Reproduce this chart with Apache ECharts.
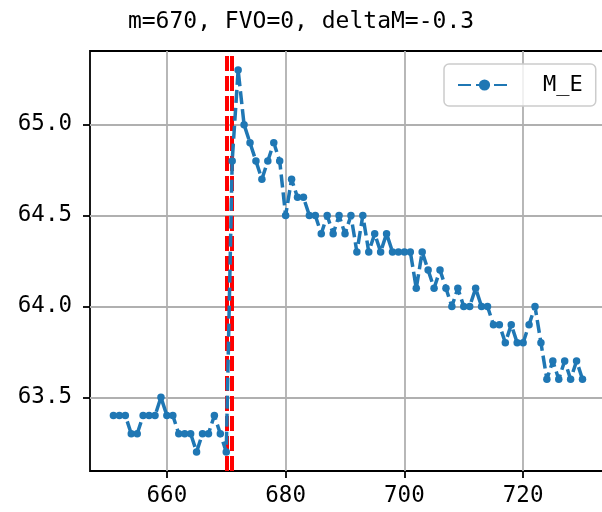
<!DOCTYPE html>
<html>
<head>
<meta charset="utf-8">
<script src="https://cdn.jsdelivr.net/npm/echarts@6/dist/echarts.min.js"></script>
<style>html,body{margin:0;padding:0;background:#fff;}#c{width:602px;height:512px;}</style>
</head>
<body>
<div id="c"></div>
<script>
const titleText = 'm=670, FVO=0, deltaM=-0.3';
const seriesName = 'M_E';
const mValues = [651,652,653,654,655,656,657,658,659,660,661,662,663,664,665,666,667,668,669,670,
  671,672,673,674,675,676,677,678,679,680,681,682,683,684,685,686,687,688,689,690,
  691,692,693,694,695,696,697,698,699,700,701,702,703,704,705,706,707,708,709,710,
  711,712,713,714,715,716,717,718,719,720,721,722,723,724,725,726,727,728,729,730];
const meValues = [63.4,63.4,63.4,63.3,63.3,63.4,63.4,63.4,63.5,63.4,63.4,63.3,63.3,63.3,63.2,63.3,63.3,63.4,63.3,63.2,
  64.8,65.3,65.0,64.9,64.8,64.7,64.8,64.9,64.8,64.5,64.7,64.6,64.6,64.5,64.5,64.4,64.5,64.4,64.5,64.4,
  64.5,64.3,64.5,64.3,64.4,64.3,64.4,64.3,64.3,64.3,64.3,64.1,64.3,64.2,64.1,64.2,64.1,64.0,64.1,64.0,
  64.0,64.1,64.0,64.0,63.9,63.9,63.8,63.9,63.8,63.8,63.9,64.0,63.8,63.6,63.7,63.6,63.7,63.6,63.7,63.6];
const vLines = [670, 671];
const xTicks = [660, 680, 700, 720];
const yTicks = [63.5, 64.0, 64.5, 65.0];
const xRange = [647.05, 738.0];
const yRange = [63.095, 65.405];

const FONT = 'DejaVu Sans Mono';
const chart = echarts.init(document.getElementById('c'), null, {renderer: 'canvas'});
chart.setOption({
  animation: false,
  backgroundColor: '#fff',
  title: {
    text: titleText, left: 'center', top: 6,
    textStyle: {fontFamily: FONT, fontSize: 23, fontWeight: 'normal', color: '#000'}
  },
  grid: {left: 90, top: 51, width: 540, height: 420, outerBoundsMode: 'none', containLabel: false,
    show: true, borderColor: '#000', borderWidth: 1.8, backgroundColor: 'transparent'},
  legend: {
    data: [seriesName], left: 444, top: 64,
    backgroundColor: 'rgba(255,255,255,0.8)', borderColor: '#cccccc', borderWidth: 1.5, borderRadius: 5,
    padding: [10, 13], itemWidth: 53, itemHeight: 14,
    textStyle: {fontFamily: FONT, fontSize: 22, color: '#000', padding: [0, 0, 0, 27]}
  },
  xAxis: {
    type: 'value', min: xRange[0], max: xRange[1],
    axisLine: {show: false},
    axisTick: {show: true, length: 7, lineStyle: {color: '#000', width: 1.8}, customValues: xTicks},
    axisLabel: {customValues: xTicks, fontFamily: FONT, fontSize: 22.5, color: '#000', margin: 14, formatter: v => String(v)},
    splitLine: {show: true, lineStyle: {color: '#b0b0b0', width: 1.8}}
  },
  yAxis: {
    type: 'value', min: yRange[0], max: yRange[1],
    axisLine: {show: false},
    axisTick: {show: true, length: 7, lineStyle: {color: '#000', width: 1.8}, customValues: yTicks},
    axisLabel: {customValues: yTicks, fontFamily: FONT, fontSize: 22.5, color: '#000', margin: 18, formatter: v => v.toFixed(1)},
    splitLine: {show: true, lineStyle: {color: '#b0b0b0', width: 1.8}}
  },
  series: [
    {
      name: '__vlines', type: 'line', data: [], z: 1, silent: true,
      markLine: {
        silent: true, symbol: 'none', z: 1, animation: false,
        label: {show: false},
        lineStyle: {color: '#ff0000', width: 4, type: [15, 5]},
        emphasis: {disabled: true},
        data: vLines.map(v => ({xAxis: v}))
      }
    },
    {
      name: seriesName, type: 'line', z: 3,
      data: mValues.map((m, i) => [m, meValues[i]]),
      symbol: 'circle', symbolSize: 7.5, showSymbol: true,
      itemStyle: {color: '#1f77b4', borderWidth: 0},
      lineStyle: {color: '#1f77b4', width: 3.5, type: [13, 5]},
      emphasis: {disabled: true}
    }
  ]
});
</script>
</body>
</html>
